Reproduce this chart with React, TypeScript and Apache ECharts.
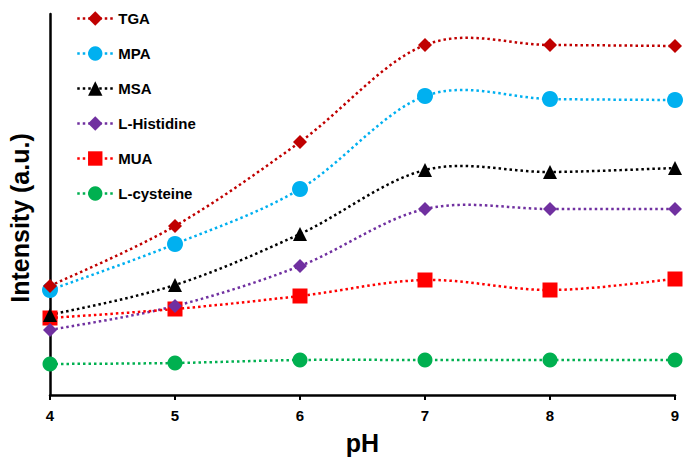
import React, { useEffect, useRef } from "react";
import * as echarts from "echarts";

const phValues = [4, 5, 6, 7, 8, 9];
const seriesNames = ["TGA", "MPA", "MSA", "L-Histidine", "MUA", "L-cysteine"];
const tga = [109, 169, 253, 350, 350, 349];
const mpa = [105, 151, 206, 299, 296, 295];
const msa = [80, 110, 161, 225, 223, 227];
const histidine = [65, 89, 129, 186, 186, 186];
const mua = [77, 86, 99, 115, 105, 116];
const cysteine = [31, 32, 35, 35, 35, 35];

const seriesData = [tga, mpa, msa, histidine, mua, cysteine];
const colors = ["#C00000", "#00B0F0", "#000000", "#7030A0", "#FF0000", "#00B050"];
const symbols = ["diamond", "circle", "triangle", "diamond", "rect", "circle"];
const sizes = [14, 16, 14, 14, 15, 15];

const DASH = [2.5, 3];
const LW = 2.5;

function splinePoints(pts: number[][]): number[][] {
  // Catmull-Rom style (Excel-like) smoothing through screen points
  const out: number[][] = [];
  const n = pts.length;
  for (let i = 0; i < n - 1; i++) {
    const p0 = pts[Math.max(0, i - 1)];
    const p1 = pts[i];
    const p2 = pts[i + 1];
    const p3 = pts[Math.min(n - 1, i + 2)];
    const c1 = [p1[0] + (p2[0] - p0[0]) / 6, p1[1] + (p2[1] - p0[1]) / 6];
    const c2 = [p2[0] - (p3[0] - p1[0]) / 6, p2[1] - (p3[1] - p1[1]) / 6];
    const steps = 30;
    for (let s = i === 0 ? 0 : 1; s <= steps; s++) {
      const t = s / steps;
      const a = (1 - t) * (1 - t) * (1 - t);
      const b = 3 * (1 - t) * (1 - t) * t;
      const c = 3 * (1 - t) * t * t;
      const d = t * t * t;
      out.push([
        a * p1[0] + b * c1[0] + c * c2[0] + d * p2[0],
        a * p1[1] + b * c1[1] + c * c2[1] + d * p2[1],
      ]);
    }
  }
  return out;
}

export default function App() {
  const ref = useRef<HTMLDivElement>(null);
  useEffect(() => {
    if (!ref.current) return;
    const chart = echarts.init(ref.current, null, { renderer: "svg" });
    const font = "'Liberation Sans', Arial, sans-serif";

    const curveSeries = seriesNames.map((name, i) => ({
      name: name + "-curve",
      type: "custom",
      silent: true,
      z: 1,
      data: [[phValues[0], seriesData[i][0]]],
      renderItem: (params: any, api: any) => {
        const pts = phValues.map((x, j) => api.coord([x, seriesData[i][j]]));
        return {
          type: "polyline",
          shape: { points: splinePoints(pts) },
          style: { stroke: colors[i], lineWidth: LW, lineDash: DASH, fill: null },
        };
      },
    }));

    const markerSeries = seriesNames.map((name, i) => ({
      name,
      type: "line",
      symbol: symbols[i],
      symbolSize: sizes[i],
      data: phValues.map((x, j) => [x, seriesData[i][j]]),
      itemStyle: { color: colors[i] },
      lineStyle: { color: colors[i], width: LW, type: DASH, opacity: 0 },
      z: 10 - i,
    }));

    chart.setOption({
      animation: false,
      backgroundColor: "#ffffff",
      grid: { left: 50, right: 21, top: 14, bottom: 73, containLabel: false },
      legend: {
        orient: "vertical",
        left: 71,
        top: 3,
        itemWidth: 36,
        itemHeight: 18,
        itemGap: 14,
        data: seriesNames.map((name, i) => ({
          name,
          lineStyle: { color: colors[i], width: LW, type: DASH, opacity: 1 },
        })),
        textStyle: { fontFamily: font, fontWeight: "bold", fontSize: 15, color: "#000", lineHeight: 21 },
      },
      graphic: [
        {
          type: "text",
          x: 20,
          y: 218,
          rotation: Math.PI / 2,
          style: {
            text: "Intensity (a.u.)",
            font: "bold 25px 'Liberation Sans', Arial, sans-serif",
            fill: "#000",
            textAlign: "center",
            textVerticalAlign: "middle",
          },
        },
      ],
      xAxis: {
        type: "value",
        min: 4,
        max: 9,
        interval: 1,
        name: "pH",
        nameLocation: "middle",
        nameGap: 35,
        nameTextStyle: { fontFamily: font, fontWeight: "bold", fontSize: 25, color: "#000" },
        axisLine: { show: true, onZero: false, lineStyle: { color: "#000", width: 2.5 } },
        axisTick: { show: true, inside: false, length: 5, lineStyle: { color: "#000", width: 2 } },
        axisLabel: { fontFamily: font, fontWeight: "bold", fontSize: 15, color: "#000", margin: 13 },
        splitLine: { show: false },
      },
      yAxis: {
        type: "value",
        min: 0,
        max: 381,
        axisLine: { show: true, onZero: false, lineStyle: { color: "#000", width: 2.5 } },
        axisTick: { show: false },
        axisLabel: { show: false },
        splitLine: { show: false },
      },
      series: [...curveSeries, ...markerSeries],
    });
    return () => chart.dispose();
  }, []);
  return (
    <div
      ref={ref}
      style={{ position: "fixed", left: 0, top: 0, width: 696, height: 468 }}
    />
  );
}
